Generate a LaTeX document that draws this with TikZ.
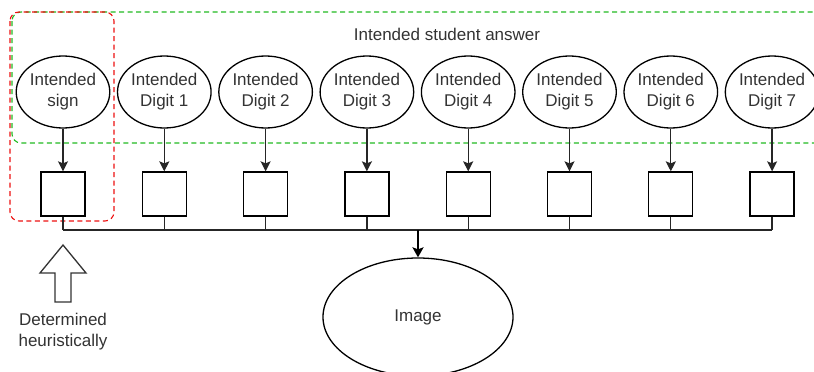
\documentclass[tikz,border=0pt]{standalone}
\usepackage{fontspec}
\setmainfont{Liberation Sans}
\usetikzlibrary{shapes.geometric,arrows.meta}
\definecolor{ink}{HTML}{333333}
\definecolor{grp}{HTML}{22BB22}
\definecolor{heur}{HTML}{EE1111}
\begin{document}
\begin{tikzpicture}[x=1pt,y=-1pt,
  every node/.style={font=\fontsize{17}{21}\selectfont, text=ink},
  latent/.style={ellipse, draw=black, line width=1.3pt, minimum width=88pt, minimum height=72pt, inner sep=0pt, align=center},
  factor/.style={rectangle, draw=black, line width=1.3pt, minimum width=44pt, minimum height=44pt, inner sep=0pt},
  wire/.style={draw=black!85, line width=1.3pt},
  link/.style={wire, -{Stealth[length=10pt,width=10pt,inset=2pt]}},
  mainlink/.style={draw=black, line width=2pt, -{Stealth[length=10pt,width=11pt,inset=2pt]}},
  groupbox/.style={dashed, dash pattern=on 5pt off 3.5pt, line width=1.1pt, rounded corners=9pt}]

\clip (0,0) rectangle (814,372);
\fill[white] (0,0) rectangle (814,372);

% group outlines
\draw[groupbox, draw=grp] (12,12) rectangle (840,143);
\draw[groupbox, draw=heur] (10,12) rectangle (114,221);
\node (grplabel) at (447,34) {Intended student answer};

% latent variables and their factor boxes
\node[latent] (s0) at (63,92) {Intended\\sign};
\foreach \i in {1,...,7} {
  \node[latent] (s\i) at ({63+101.3*\i},92) {Intended\\Digit \i};
}
\foreach \i in {0,...,7} {
  \node[factor] (b\i) at ({63+101.3*\i},194) {};
  \draw[link] (s\i) -- (b\i);
}

% shared bus into the image node
\coordinate (bus) at (418,230);
\node[latent, minimum width=190pt, minimum height=118pt] (img) at (418,317) {Image};
\foreach \i in {0,...,7} {
  \draw[wire] (b\i.south) -- (b\i.south |- bus);
}
\draw[wire] (b0.south |- bus) -- (b7.south |- bus);
\draw[mainlink] (bus) -- (img.north);

% hollow up arrow with its note
\draw[line width=1.3pt, draw=ink, fill=white, line join=miter]
  (63,245) -- (86,273) -- (71,273) -- (71,302) -- (55,302) -- (55,273) -- (40,273) -- cycle;
\node[align=center] (note) at (63,332) {Determined\\heuristically};
\end{tikzpicture}
\end{document}
